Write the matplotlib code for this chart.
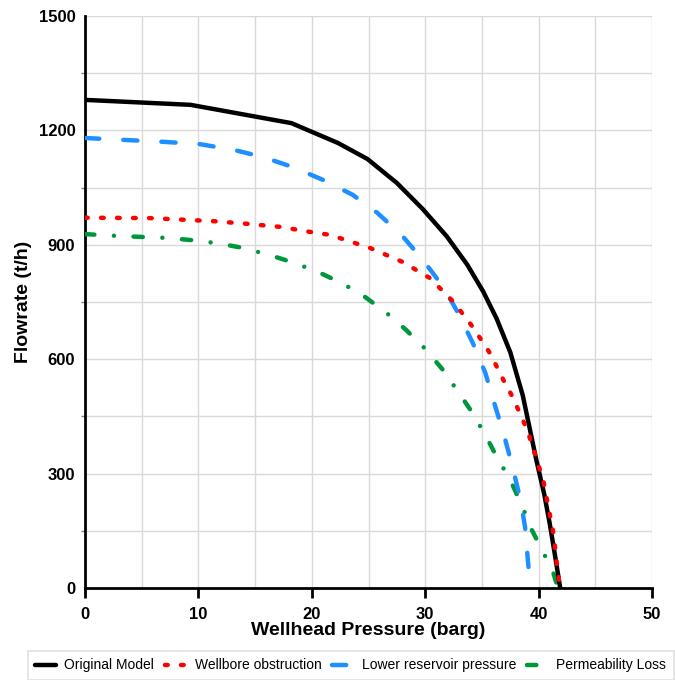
import matplotlib
matplotlib.use('Agg')
import matplotlib.pyplot as plt
from matplotlib.ticker import MultipleLocator

plt.rcParams['font.family'] = ['Liberation Sans', 'DejaVu Sans']

# Original model
orig_p = [0, 9.3, 18.2, 22.3, 24.9, 27.5, 29.8, 31.9, 33.7, 35.1, 36.3,
          37.5, 38.6, 39.8, 40.5, 41.0, 41.5, 41.9]
orig_q = [1280, 1267, 1219, 1167, 1125, 1062, 993, 922, 848, 778, 706,
          618, 505, 335, 245, 165, 75, 0]

# Wellbore obstruction
wb_p = [0, 5.7, 11.3, 14.3, 17.2, 19.8, 21.6, 25.1, 28.0, 30.4, 32.5, 34.2, 35.7, 36.9,
        37.7, 39.0, 40.4, 41.3, 41.7, 41.9]
wb_q = [971, 970, 962, 955, 947, 934, 926, 892, 855, 813, 750, 684, 616, 545,
        501, 414, 283, 144, 40, 0]

# Lower reservoir pressure
lr_p = [0, 6.9, 10.1, 13.1, 15.7, 18.3, 21.0, 23.6, 25.8, 27.9, 29.8, 31.6, 32.9, 34.2,
        35.3, 36.0, 36.9, 37.7, 38.4, 38.8, 39.2, 39.3]
lr_q = [1180, 1170, 1164, 1149, 1130, 1104, 1070, 1031, 983, 926, 860, 789, 721, 642,
        564, 493, 406, 317, 231, 160, 21, 0]

# Permeability loss
pl_p = [0, 3.0, 7.2, 9.5, 11.7, 13.9, 16.3, 18.5, 20.6, 22.8, 24.7, 26.6, 28.3, 30.0,
        31.5, 32.8, 34.1, 35.3, 36.3, 37.5, 38.5, 39.4, 40.4, 41.3, 41.7]
pl_q = [928, 923, 918, 912, 904, 892, 873, 852, 828, 797, 763, 721, 677, 627,
        574, 519, 462, 401, 344, 283, 218, 152, 94, 39, 0]

fig = plt.figure(figsize=(6.75, 6.8), dpi=100)
ax = fig.add_axes([0.126, 0.1353, 0.840, 0.8412])

lw = 3.2
ax.plot(orig_p, orig_q, color='black', lw=lw, label='Original Model',
        solid_capstyle='round', solid_joinstyle='round', zorder=5)
ax.plot(wb_p, wb_q, color='#FF0000', lw=lw, label='Wellbore obstruction',
        dashes=(0.6, 3.0), dash_capstyle='round', zorder=6)
ax.plot(lr_p, lr_q, color='#1E8FFF', lw=lw, label='Lower reservoir pressure',
        dashes=(3.2, 5.4), dash_capstyle='round', zorder=4)
ax.plot(pl_p, pl_q, color='#00963C', lw=lw, label='Permeability Loss',
        dashes=(2.1, 4.4, 0.01, 4.4), dash_capstyle='round', zorder=3)

ax.set_xlim(0, 50)
ax.set_ylim(0, 1500)
ax.xaxis.set_major_locator(MultipleLocator(10))
ax.xaxis.set_minor_locator(MultipleLocator(5))
ax.yaxis.set_major_locator(MultipleLocator(300))
ax.yaxis.set_minor_locator(MultipleLocator(150))
ax.grid(True, which='both', color='#d9d9d9', lw=1)
ax.set_axisbelow(True)

for s in ['top', 'right']:
    ax.spines[s].set_visible(False)
ax.spines['left'].set_linewidth(2)
ax.spines['bottom'].set_linewidth(2)

ax.tick_params(axis='x', which='major', direction='out', length=7, width=2,
               labelsize=12, pad=7)
ax.tick_params(axis='x', which='minor', length=0)
ax.tick_params(axis='y', which='major', length=0, labelsize=12, pad=7)
ax.tick_params(axis='y', which='minor', direction='out', length=3, width=1,
               color='#808080')
for t in ax.get_xticklabels() + ax.get_yticklabels():
    t.set_fontweight('bold')

ax.set_xlabel('Wellhead Pressure (barg)', fontsize=14, fontweight='bold', labelpad=0)
ax.set_ylabel('Flowrate (t/h)', fontsize=14, fontweight='bold', labelpad=5)

leg = fig.legend(loc='lower left', bbox_to_anchor=(0.041, 0.0), ncol=4,
                 fontsize=10, frameon=True, fancybox=False, edgecolor='#d9d9d9',
                 handlelength=1.5, handletextpad=0.6, columnspacing=0.8,
                 borderpad=0.55, borderaxespad=0)
leg.get_frame().set_linewidth(1.2)

fig.savefig('out.png', dpi=100)
